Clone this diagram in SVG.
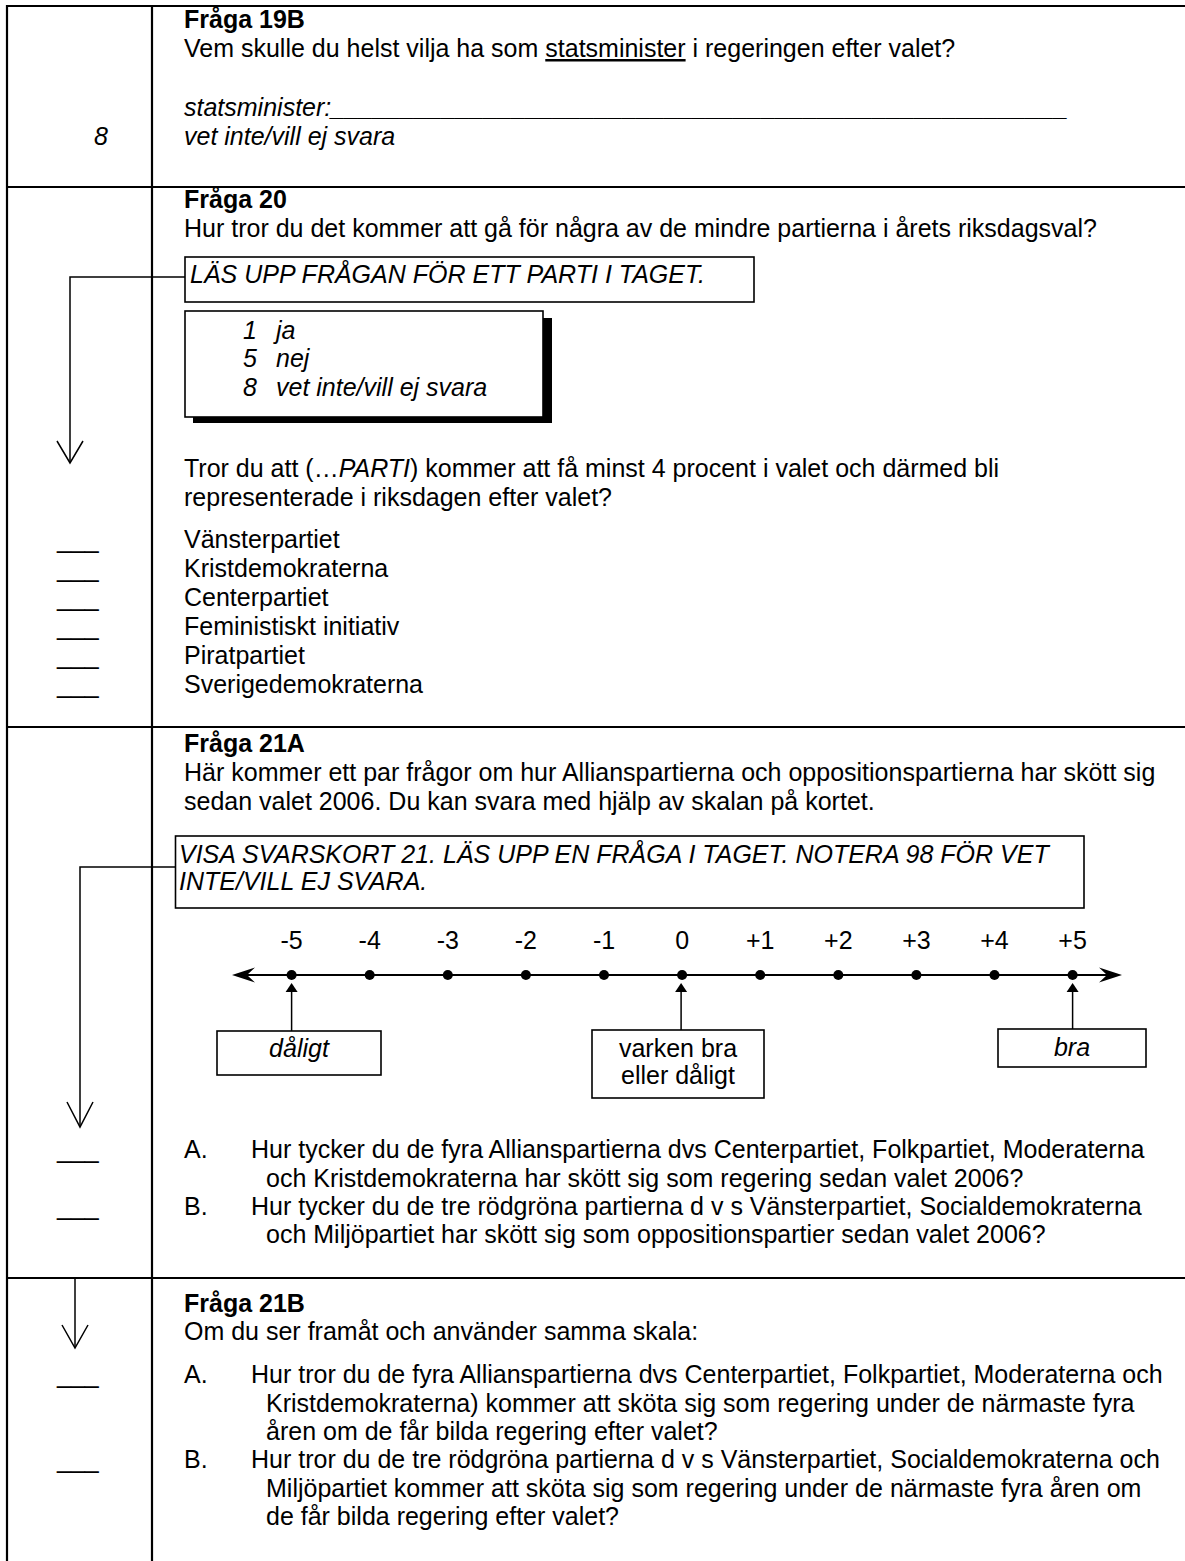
<svg xmlns="http://www.w3.org/2000/svg" width="1185" height="1561" viewBox="0 0 1185 1561">
<style>
text{font-family:"Liberation Sans",Arial,sans-serif;font-size:25px;fill:#000}
.b{font-weight:bold}
.i{font-style:italic}
.grid{stroke:#000;stroke-width:2.2;fill:none}
.box{fill:#fff;stroke:#000;stroke-width:1.6}
.ln{stroke:#000;stroke-width:1.5;fill:none}
.c{text-anchor:middle}
</style>
<rect width="1185" height="1561" fill="#fff"/>
<g id="table">
<line class="grid" x1="7" y1="5" x2="7" y2="1561"/>
<line class="grid" x1="152" y1="5" x2="152" y2="1561"/>
<line class="grid" x1="6" y1="6" x2="1185" y2="6"/>
<line class="grid" x1="6" y1="187" x2="1185" y2="187"/>
<line class="grid" x1="6" y1="727" x2="1185" y2="727"/>
<line class="grid" x1="6" y1="1278" x2="1185" y2="1278"/>
</g>
<g id="q19b">
<text class="b" x="184" y="28">Fråga 19B</text>
<text x="184" y="57">Vem skulle du helst vilja ha som <tspan text-decoration="underline">statsminister</tspan> i regeringen efter valet?</text>
<text class="i" x="184" y="116">statsminister:_____________________________________________________</text>
<text class="i" x="184" y="145">vet inte/vill ej svara</text>
<text class="i c" x="101" y="145">8</text>
</g>
<g id="q20">
<text class="b" x="184" y="208">Fråga 20</text>
<text x="184" y="237">Hur tror du det kommer att gå för några av de mindre partierna i årets riksdagsval?</text>
<text x="184" y="477">Tror du att (…<tspan class="i">PARTI</tspan>) kommer att få minst 4 procent i valet och därmed bli</text>
<text x="184" y="506">representerade i riksdagen efter valet?</text>
<text x="184" y="548">Vänsterpartiet</text>
<text x="184" y="577">Kristdemokraterna</text>
<text x="184" y="606">Centerpartiet</text>
<text x="184" y="635">Feministiskt initiativ</text>
<text x="184" y="664">Piratpartiet</text>
<text x="184" y="693">Sverigedemokraterna</text>
<text x="57" y="548">___</text>
<text x="57" y="577">___</text>
<text x="57" y="606">___</text>
<text x="57" y="635">___</text>
<text x="57" y="664">___</text>
<text x="57" y="693">___</text>
</g>
<g id="las-upp">
<rect class="box" x="185" y="257" width="569" height="45"/>
<text class="i" x="190" y="283">LÄS UPP FRÅGAN FÖR ETT PARTI I TAGET.</text>
</g>
<g id="options">
<rect x="193" y="318" width="359" height="105" fill="#000"/>
<rect class="box" x="185" y="311" width="358" height="106"/>
<text class="i" x="243" y="339">1</text><text class="i" x="276" y="339">ja</text>
<text class="i" x="243" y="367">5</text><text class="i" x="276" y="367">nej</text>
<text class="i" x="243" y="396">8</text><text class="i" x="276" y="396">vet inte/vill ej svara</text>
</g>
<g id="q21a">
<text class="b" x="184" y="752">Fråga 21A</text>
<text x="184" y="781">Här kommer ett par frågor om hur Allianspartierna och oppositionspartierna har skött sig</text>
<text x="184" y="810">sedan valet 2006. Du kan svara med hjälp av skalan på kortet.</text>
<text x="184" y="1158">A.</text>
<text x="251" y="1158">Hur tycker du de fyra Allianspartierna dvs Centerpartiet, Folkpartiet, Moderaterna</text>
<text x="266" y="1187">och Kristdemokraterna har skött sig som regering sedan valet 2006?</text>
<text x="184" y="1215">B.</text>
<text x="251" y="1215">Hur tycker du de tre rödgröna partierna d v s Vänsterpartiet, Socialdemokraterna</text>
<text x="266" y="1243">och Miljöpartiet har skött sig som oppositionspartier sedan valet 2006?</text>
<text x="57" y="1158">___</text>
<text x="57" y="1215">___</text>
</g>
<g id="visa">
<rect class="box" x="175.5" y="836" width="908.5" height="72"/>
<text class="i" x="179" y="863">VISA SVARSKORT 21. LÄS UPP EN FRÅGA I TAGET. NOTERA 98 FÖR VET</text>
<text class="i" x="179" y="890">INTE/VILL EJ SVARA.</text>
</g>
<g id="scale">
<line x1="240" y1="975" x2="1115" y2="975" stroke="#000" stroke-width="2"/>
<path d="M232,975 L255,967.5 L247,975 L255,982.5 Z" fill="#000"/>
<path d="M1122,975 L1099,967.5 L1107,975 L1099,982.5 Z" fill="#000"/>
<g fill="#000">
<circle cx="291.6" cy="975" r="5"/><circle cx="369.7" cy="975" r="5"/><circle cx="447.8" cy="975" r="5"/><circle cx="525.9" cy="975" r="5"/><circle cx="604" cy="975" r="5"/><circle cx="682.1" cy="975" r="5"/><circle cx="760.2" cy="975" r="5"/><circle cx="838.3" cy="975" r="5"/><circle cx="916.4" cy="975" r="5"/><circle cx="994.5" cy="975" r="5"/><circle cx="1072.6" cy="975" r="5"/>
</g>
<text class="c" x="291.6" y="949">-5</text><text class="c" x="369.7" y="949">-4</text><text class="c" x="447.8" y="949">-3</text><text class="c" x="525.9" y="949">-2</text><text class="c" x="604" y="949">-1</text><text class="c" x="682.1" y="949">0</text><text class="c" x="760.2" y="949">+1</text><text class="c" x="838.3" y="949">+2</text><text class="c" x="916.4" y="949">+3</text><text class="c" x="994.5" y="949">+4</text><text class="c" x="1072.6" y="949">+5</text>
</g>
<g id="label-daligt">
<rect class="box" x="217" y="1031" width="164" height="44"/>
<text class="i c" x="299" y="1057">dåligt</text>
</g>
<g id="label-varken">
<rect class="box" x="592" y="1030" width="172" height="68"/>
<text class="c" x="678" y="1057">varken bra</text>
<text class="c" x="678" y="1084">eller dåligt</text>
</g>
<g id="label-bra">
<rect class="box" x="998" y="1029" width="148" height="38"/>
<text class="i c" x="1072" y="1056">bra</text>
</g>
<g id="q21b">
<text class="b" x="184" y="1312">Fråga 21B</text>
<text x="184" y="1340">Om du ser framåt och använder samma skala:</text>
<text x="184" y="1383">A.</text>
<text x="251" y="1383">Hur tror du de fyra Allianspartierna dvs Centerpartiet, Folkpartiet, Moderaterna och</text>
<text x="266" y="1412">Kristdemokraterna) kommer att sköta sig som regering under de närmaste fyra</text>
<text x="266" y="1440">åren om de får bilda regering efter valet?</text>
<text x="184" y="1468">B.</text>
<text x="251" y="1468">Hur tror du de tre rödgröna partierna d v s Vänsterpartiet, Socialdemokraterna och</text>
<text x="266" y="1497">Miljöpartiet kommer att sköta sig som regering under de närmaste fyra åren om</text>
<text x="266" y="1525">de får bilda regering efter valet?</text>
<text x="57" y="1383">___</text>
<text x="57" y="1468">___</text>
</g>
<g id="connectors">
<polyline class="ln" points="185,277 70,277 70,462"/>
<polyline class="ln" points="57,441 70,463 83,441"/>
<polyline class="ln" points="175.5,867 80,867 80,1126"/>
<polyline class="ln" points="67,1102 80,1127 93,1102"/>
<line class="ln" x1="75" y1="1279" x2="75" y2="1347"/>
<polyline class="ln" points="62,1325 75,1348 88,1325"/>
<line class="ln" x1="291.6" y1="991" x2="291.6" y2="1031"/>
<path d="M291.6,983 L285.6,992 L297.6,992 Z" fill="#000"/>
<line class="ln" x1="681.1" y1="991" x2="681.1" y2="1030"/>
<path d="M681.1,983 L675.1,992 L687.1,992 Z" fill="#000"/>
<line class="ln" x1="1072.6" y1="991" x2="1072.6" y2="1029"/>
<path d="M1072.6,983 L1066.6,992 L1078.6,992 Z" fill="#000"/>
</g>
</svg>
